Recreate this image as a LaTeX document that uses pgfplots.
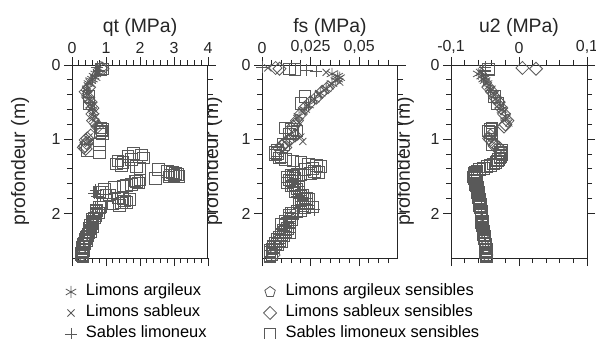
\documentclass[border=0pt]{standalone}
\usepackage{fontspec}
\setmainfont{Liberation Sans}
\usepackage{pgfplots}
\usepackage{pgfplotstable}
\pgfplotsset{compat=1.18}

% Limons argileux (asterisk)
\pgfplotstableread{
d qt fs u2
0.12 0.70 0.036 -0.060
0.15 0.65 0.039 -0.055
0.17 0.68 0.040 -0.050
0.19 0.60 0.039 -0.052
0.21 0.55 0.038 -0.050
0.25 0.50 0.036 -0.047
0.32 0.45 0.033 -0.042
0.38 0.42 0.030 -0.038
0.46 0.50 0.027 -0.034
0.54 0.55 0.024 -0.028
0.60 0.60 0.022 -0.025
0.69 0.65 0.019 -0.020
}\LA
% Limons sableux (x)
\pgfplotstableread{
d qt fs u2
0.04 0.80 0.003 -0.055
0.10 0.72 0.033 -0.058
0.23 0.50 0.040 -0.048
0.28 0.45 0.035 -0.045
0.34 0.40 0.032 -0.042
0.40 0.45 0.029 -0.037
0.48 0.52 0.026 -0.032
0.56 0.58 0.023 -0.027
0.63 0.62 0.021 -0.023
0.72 0.60 0.018 -0.018
0.78 0.70 0.019 -0.015
0.97 0.50 0.020 -0.040
1.03 0.50 0.021 -0.040
2.01 0.65 0.016 -0.055
2.11 0.55 0.012 -0.054
2.23 0.48 0.010 -0.052
2.35 0.45 0.008 -0.050
2.47 0.30 0.005 -0.049
}\LS
% Sables limoneux (+)
\pgfplotstableread{
d qt fs u2
0.03 0.75 0.000 -0.050
0.07 0.80 0.023 -0.050
0.08 0.78 0.028 -0.050
1.69 0.70 0.020 -0.060
1.73 0.65 0.019 -0.061
1.77 0.75 0.018 -0.059
1.93 0.75 0.024 -0.056
1.95 0.80 0.027 -0.056
2.05 0.62 0.013 -0.054
2.17 0.50 0.011 -0.054
2.29 0.45 0.012 -0.051
2.41 0.35 0.007 -0.049
}\SL
% Limons sableux sensibles (diamond)
\pgfplotstableread{
d qt fs u2
0.04 0.85 0.007 0.005
0.05 0.90 0.009 0.025
0.30 0.50 0.034 -0.045
0.36 0.40 0.031 -0.040
0.44 0.48 0.028 -0.035
0.50 0.55 0.025 -0.030
0.58 0.60 0.022 -0.026
0.66 0.60 0.020 -0.022
0.75 0.62 0.018 -0.017
0.80 0.72 0.017 -0.020
0.83 0.75 0.016 -0.022
0.95 0.55 0.017 -0.042
0.99 0.45 0.015 -0.044
1.01 0.40 0.014 -0.042
1.05 0.42 0.012 -0.038
1.09 0.38 0.010 -0.036
1.11 0.35 0.012 -0.030
1.13 0.40 0.009 -0.028
2.56 0.30 0.006 -0.048
}\LSS
% Sables limoneux sensibles (square)
\pgfplotstableread{
d qt fs u2
0.05 0.90 0.014 -0.045
0.06 0.85 0.017 -0.045
0.42 0.50 0.022 -0.036
0.52 0.50 0.020 -0.032
0.85 0.85 0.012 -0.040
0.87 0.90 0.015 -0.042
0.89 0.88 0.018 -0.045
0.91 0.82 0.016 -0.043
0.93 0.90 0.014 -0.040
1.07 0.80 0.011 -0.040
1.15 0.45 0.008 -0.025
1.18 0.80 0.007 -0.027
1.19 1.80 0.008 -0.026
1.21 2.05 0.007 -0.025
1.23 1.65 0.010 -0.027
1.25 2.10 0.009 -0.028
1.27 1.75 0.012 -0.030
1.29 1.35 0.016 -0.032
1.31 1.50 0.020 -0.034
1.33 1.30 0.024 -0.038
1.35 1.45 0.028 -0.042
1.37 1.90 0.030 -0.047
1.39 2.00 0.026 -0.052
1.41 2.55 0.022 -0.058
1.43 2.80 0.027 -0.062
1.45 2.95 0.029 -0.065
1.46 3.05 0.025 -0.066
1.47 3.10 0.018 -0.066
1.48 2.90 0.020 -0.065
1.49 3.00 0.015 -0.065
1.50 3.15 0.016 -0.066
1.51 2.85 0.013 -0.067
1.53 2.45 0.017 -0.066
1.55 2.00 0.014 -0.064
1.56 1.85 0.015 -0.064
1.57 1.90 0.016 -0.065
1.59 1.95 0.013 -0.063
1.61 1.75 0.017 -0.064
1.62 1.60 0.016 -0.063
1.63 1.50 0.015 -0.062
1.65 1.25 0.019 -0.061
1.67 0.95 0.018 -0.062
1.71 0.80 0.017 -0.060
1.72 0.90 0.019 -0.061
1.75 1.10 0.021 -0.060
1.76 1.00 0.020 -0.060
1.79 1.35 0.022 -0.060
1.80 1.50 0.023 -0.059
1.81 1.70 0.024 -0.058
1.83 1.55 0.020 -0.059
1.85 1.60 0.019 -0.058
1.86 1.45 0.021 -0.058
1.87 1.20 0.023 -0.057
1.89 1.40 0.021 -0.058
1.91 0.85 0.026 -0.057
1.92 0.80 0.022 -0.057
1.96 0.72 0.020 -0.056
1.97 0.70 0.018 -0.055
1.99 0.78 0.015 -0.056
2.00 0.70 0.016 -0.056
2.03 0.70 0.014 -0.055
2.06 0.66 0.014 -0.055
2.08 0.60 0.015 -0.055
2.10 0.62 0.012 -0.054
2.12 0.58 0.014 -0.055
2.14 0.58 0.010 -0.053
2.16 0.55 0.012 -0.054
2.18 0.60 0.014 -0.053
2.20 0.52 0.013 -0.053
2.22 0.50 0.011 -0.053
2.24 0.55 0.012 -0.052
2.26 0.50 0.014 -0.052
2.28 0.47 0.010 -0.052
2.30 0.45 0.011 -0.051
2.32 0.42 0.009 -0.051
2.34 0.40 0.008 -0.051
2.36 0.43 0.009 -0.050
2.38 0.38 0.010 -0.050
2.40 0.36 0.007 -0.050
2.42 0.34 0.008 -0.049
2.44 0.32 0.006 -0.050
2.46 0.30 0.006 -0.049
2.48 0.32 0.005 -0.048
2.50 0.33 0.004 -0.048
2.52 0.30 0.004 -0.048
2.53 0.28 0.005 -0.049
2.55 0.27 0.005 -0.048
2.57 0.30 0.004 -0.047
2.58 0.32 0.004 -0.048
}\SLS

\pgfplotsset{
  panel/.style={
    width=136bp, height=193bp, scale only axis,
    y dir=reverse, ymin=0, ymax=2.6, ytick={0,1,2}, minor y tick num=4,
    xticklabel pos=upper, tick align=outside,
    scaled x ticks=false, scaled y ticks=false,
    major tick length=8bp, minor tick length=5bp,
    axis background/.style={fill=white},
    axis line style={line width=1bp, black!85},
    every tick/.style={line width=0.9bp, black!85},
    /pgf/number format/assume math mode=true,
    tick label style={font=\fontsize{16}{18}\selectfont, black!85},
    label style={font=\fontsize{19.5}{22}\selectfont, black!85},
    title style={at={(axis description cs:0.5,1.165)}, anchor=center, font=\fontsize{19.5}{22}\selectfont, black!85},
    ylabel={profondeur (m)},
    clip=false,
  },
  sLA/.style={only marks, mark=asterisk, mark size=6bp, black!65, line width=0.8bp},
  sLS/.style={only marks, mark=x, mark size=5bp, black!65, line width=0.8bp},
  sSL/.style={only marks, mark=+, mark size=6bp, black!65, line width=0.8bp},
  sLAS/.style={only marks, mark=pentagon, mark size=5.5bp, black!65, line width=0.8bp},
  sLSS/.style={only marks, mark=diamond, mark size=6.5bp, mark options={xscale=1.33}, black!65, line width=0.8bp},
  sSLS/.style={only marks, mark=square, mark size=5.8bp, black!65, line width=0.8bp},
}

\begin{document}
\begin{tikzpicture}
\useasboundingbox (0bp,0bp) rectangle (596bp,339bp);

% panel 3: u2
\begin{axis}[panel, at={(451bp,81bp)}, anchor=south west,
  title={u2 (MPa)},
  xmin=-0.1, xmax=0.1, xtick={-0.1,0,0.1}, xticklabels={{-0,1},0,{0,1}},
  minor xtick={-0.08,-0.06,-0.04,-0.02,0.02,0.04,0.06,0.08},
  ylabel style={at={(axis description cs:-0.34,0.5)}, anchor=center}]
\addplot[sSLS] table[x=u2,y=d]{\SLS};
\addplot[sLSS] table[x=u2,y=d]{\LSS};
\addplot[sLS] table[x=u2,y=d]{\LS};
\addplot[sSL] table[x=u2,y=d]{\SL};
\addplot[sLA] table[x=u2,y=d]{\LA};
\end{axis}

% panel 2: fs
\begin{axis}[panel, at={(262bp,81bp)}, anchor=south west,
  title={fs (MPa)},
  xmin=0, xmax=0.07, xtick={0,0.025,0.05}, xticklabels={0,{0,025},{0,05}},
  minor xtick={0.005,0.01,0.015,0.02,0.03,0.035,0.04,0.045,0.055,0.06,0.065},
  ylabel style={at={(axis description cs:-0.36,0.5)}, anchor=center}]
\addplot[sSLS] table[x=fs,y=d]{\SLS};
\addplot[sLSS] table[x=fs,y=d]{\LSS};
\addplot[sLS] table[x=fs,y=d]{\LS};
\addplot[sSL] table[x=fs,y=d]{\SL};
\addplot[sLA] table[x=fs,y=d]{\LA};
\end{axis}

% panel 1: qt
\begin{axis}[panel, at={(72bp,81bp)}, anchor=south west,
  title={qt (MPa)},
  xmin=0, xmax=4, xtick={0,1,2,3,4}, minor x tick num=4,
  ylabel style={at={(axis description cs:-0.382,0.5)}, anchor=center},
  legend columns=2, legend cell align=left,
  legend style={at={(axis description cs:-0.075,-0.118)}, anchor=north west,
    draw=none, fill=none, font=\fontsize{16.5}{18}\selectfont,
    row sep=3bp, nodes={inner ysep=1bp, text height=12bp, text depth=4bp},
    /tikz/column 1/.style={column sep=7bp},
    /tikz/column 3/.style={column sep=7bp},
    /tikz/column 2/.style={column sep=55bp}}]
\addlegendimage{sLA}
\addlegendimage{sLAS}
\addlegendimage{sLS}
\addlegendimage{sLSS}
\addlegendimage{sSL}
\addlegendimage{sSLS}
\legend{Limons argileux, Limons argileux sensibles, Limons sableux, Limons sableux sensibles, Sables limoneux, Sables limoneux sensibles}
\addplot[sSLS, forget plot] table[x=qt,y=d]{\SLS};
\addplot[sLSS, forget plot] table[x=qt,y=d]{\LSS};
\addplot[sLS, forget plot] table[x=qt,y=d]{\LS};
\addplot[sSL, forget plot] table[x=qt,y=d]{\SL};
\addplot[sLA, forget plot] table[x=qt,y=d]{\LA};
\end{axis}
\end{tikzpicture}
\end{document}
